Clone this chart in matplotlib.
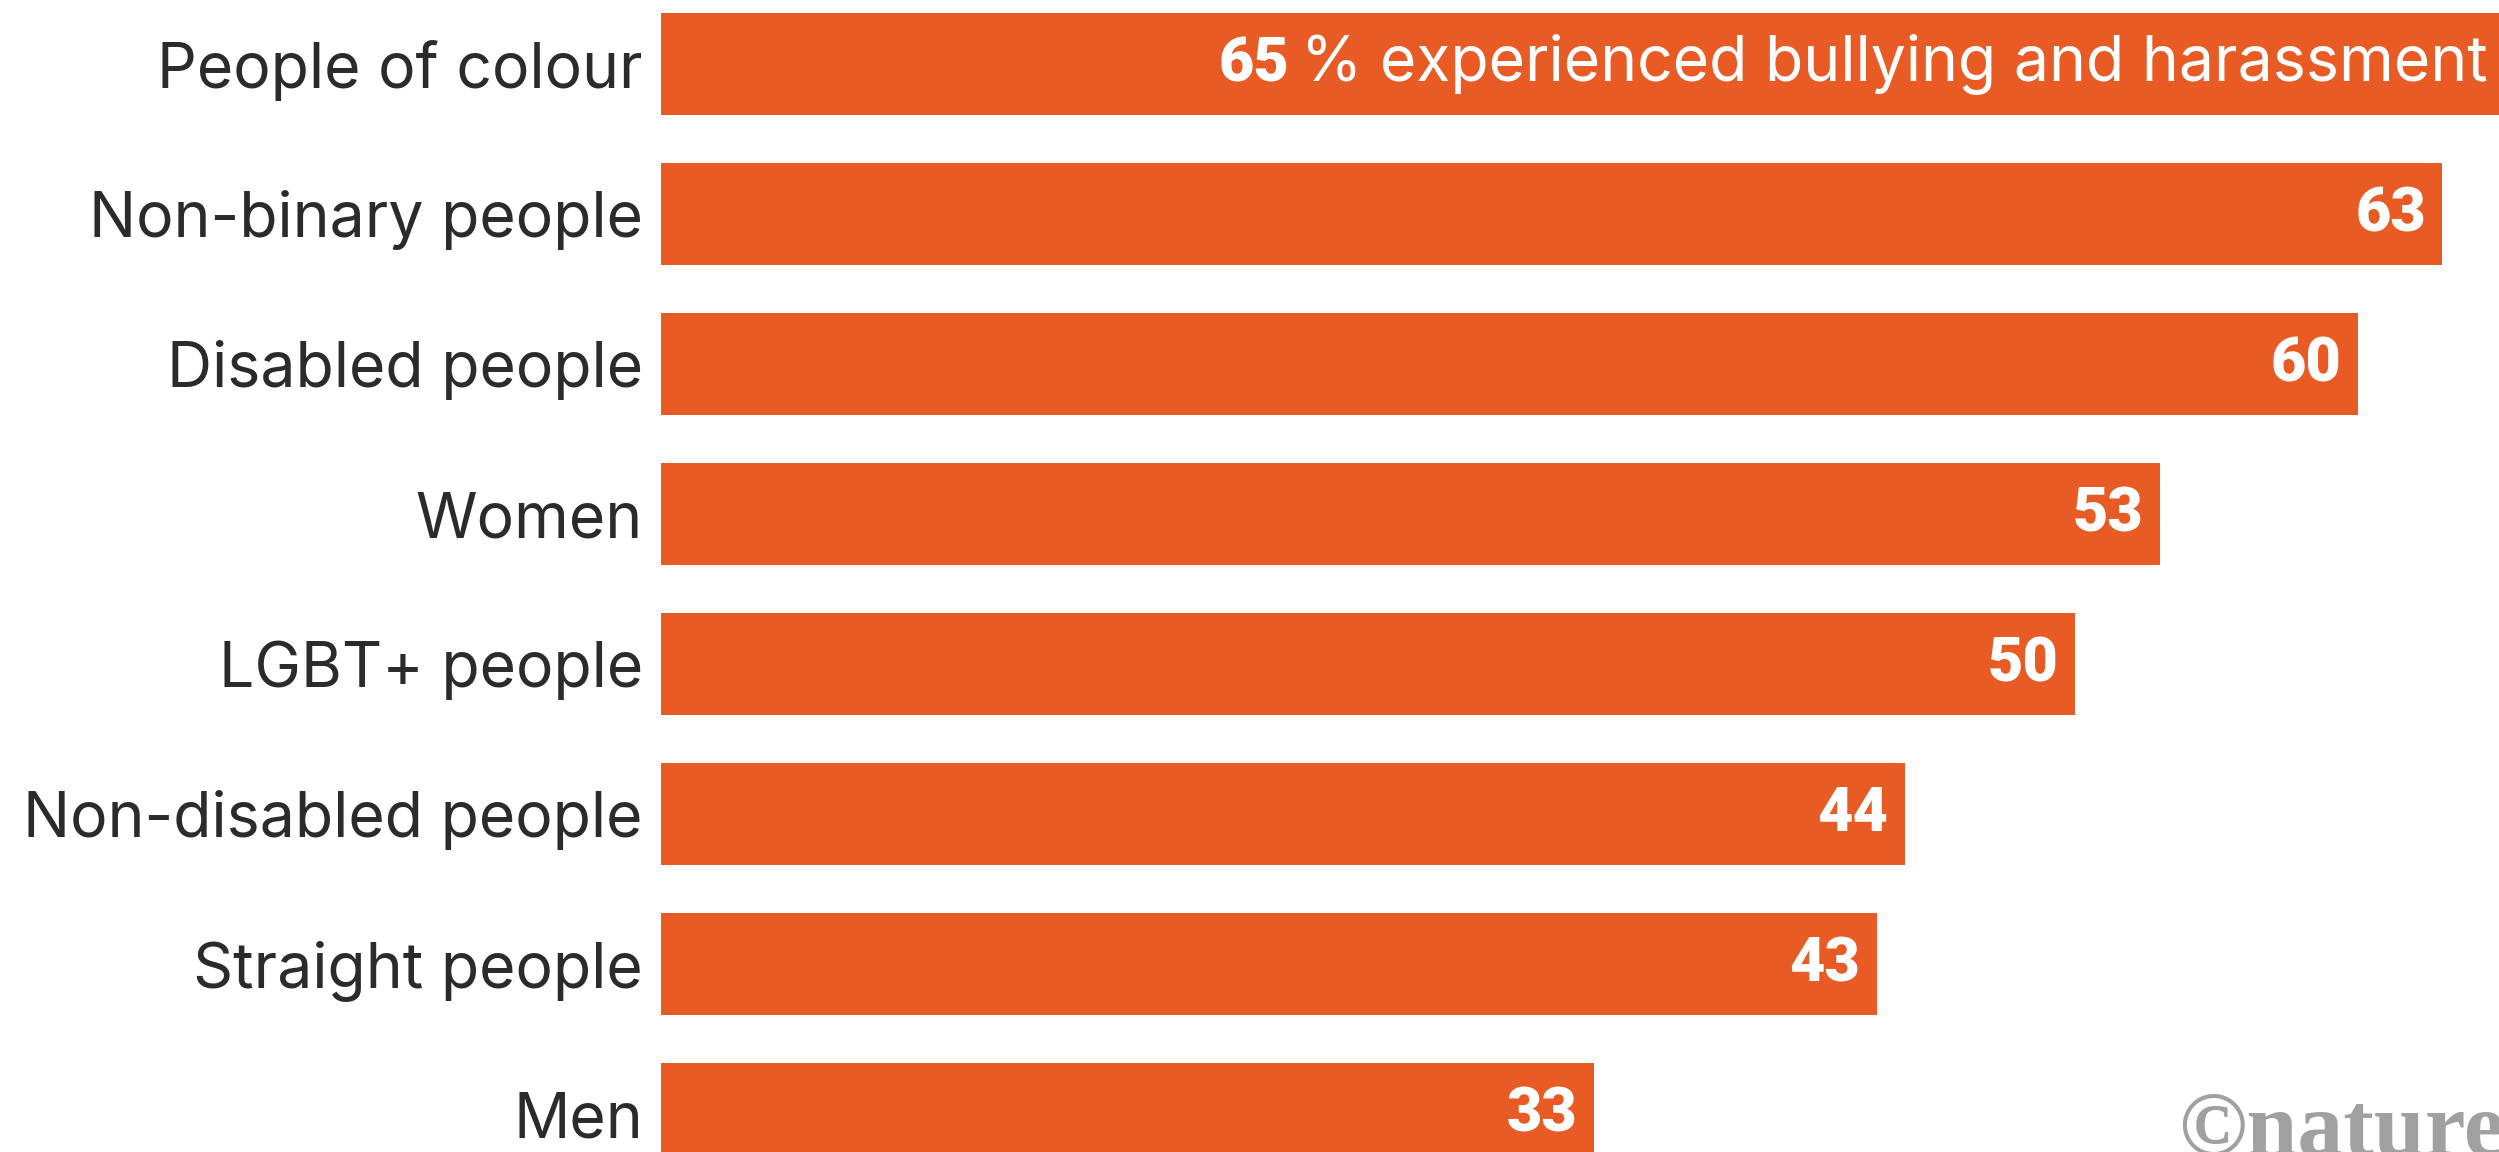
import matplotlib
matplotlib.use("Agg")
import matplotlib.pyplot as plt

groups = ["People of colour", "Non-binary people", "Disabled people", "Women",
          "LGBT+ people", "Non-disabled people", "Straight people", "Men"]
percent = [65, 63, 60, 53, 50, 44, 43, 33]
top_note = "% experienced bullying and harassment"

bar_colour = "#E95B24"
W, H = 2499, 1152

fig = plt.figure(figsize=(W / 100, H / 100), dpi=100)
ax = fig.add_axes([661 / W, 0, (W - 661) / W, 1])

ypos = list(range(len(groups)))
ax.barh(ypos, percent, height=0.68, color=bar_colour)
ax.set_xlim(0, 65)
ax.set_ylim((H - 64) / 150, -64 / 150)

ax.set_yticks(ypos)
ax.set_yticklabels(groups, fontsize=45, family="Inter", color="#2b2b2b")
ax.tick_params(axis="y", length=0, pad=13)
ax.set_xticks([])
for s in ax.spines.values():
    s.set_visible(False)

# value labels inside the bar ends (the first one carries the sentence)
for y, v in zip(ypos[1:], percent[1:]):
    ax.annotate(str(v), (v, y), xytext=(-12, 0), textcoords="offset points",
                ha="right", va="center", fontsize=44, family="Roboto",
                fontweight="black", color="white")

note = ax.annotate(top_note, (percent[0], ypos[0]), xytext=(-8, 0),
                   textcoords="offset points", ha="right", va="center",
                   fontsize=45, family="Inter", color="white")
fig.canvas.draw()
bb = note.get_window_extent()
x_left = ax.transData.inverted().transform((bb.x0 - 12, 0))[0]
ax.text(x_left, ypos[0], str(percent[0]), ha="right", va="center",
        fontsize=44, family="Roboto", fontweight="black", color="white")

fig.text(2178 / W, -3 / H, "\u00a9nature", ha="left", va="baseline",
         fontsize=66, family="Liberation Serif", fontweight="bold", color="#A0A0A0")

fig.savefig("out.png", dpi=100)
